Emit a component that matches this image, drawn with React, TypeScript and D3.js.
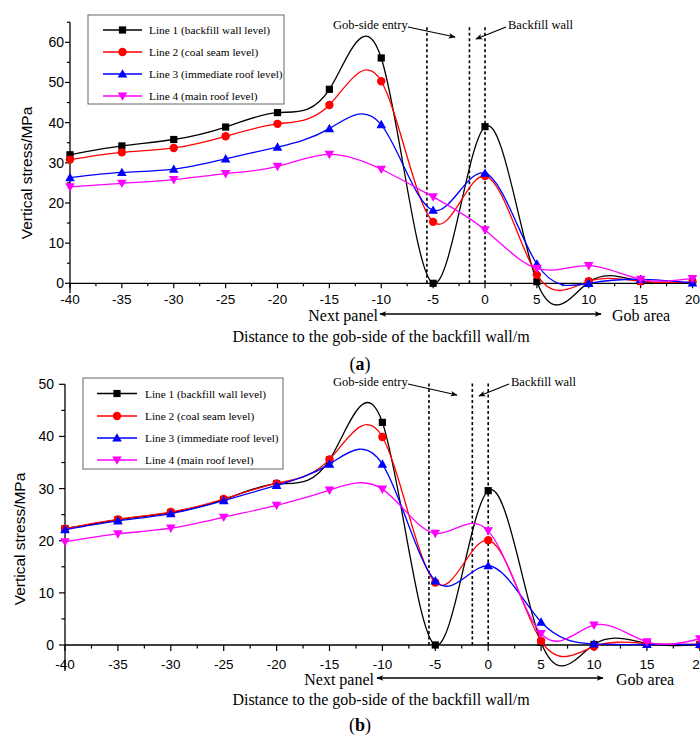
import React from "react";
import * as d3 from "d3";

// Distance to the gob-side of the backfill wall (m)
const distances = [-40, -35, -30, -25, -20, -15, -10, -5, 0, 5, 10, 15, 20];
const xTicks = [-40, -35, -30, -25, -20, -15, -10, -5, 0, 5, 10, 15, 20];

const seriesNames = [
  "Line 1 (backfill wall level)",
  "Line 2 (coal seam level)",
  "Line 3 (immediate roof level)",
  "Line 4 (main roof level)",
];
const seriesColors = ["#000000", "#ff0000", "#0000ff", "#ff00ff"];
const seriesShapes = ["square", "circle", "triangle", "triangleDown"];

// Vertical stress (MPa), panel (a)
const stressA1 = [32.0, 34.2, 35.8, 38.9, 42.5, 48.3, 56.1, 0, 39.0, 0.4, 0.3, 0.5, 0.3];
const stressA2 = [30.8, 32.6, 33.7, 36.6, 39.7, 44.4, 50.3, 15.3, 26.7, 2.1, 0.5, 0.5, 0.3];
const stressA3 = [26.3, 27.6, 28.4, 31.0, 33.9, 38.5, 39.5, 18.2, 27.4, 4.8, 0.0, 1.0, 0.1];
const stressA4 = [24.0, 24.9, 25.8, 27.3, 29.1, 32.1, 28.4, 21.5, 13.3, 3.7, 4.4, 1.0, 1.2];

// Vertical stress (MPa), panel (b)
const stressB1 = [22.3, 24.0, 25.4, 27.9, 30.9, 35.5, 42.7, 0, 29.6, 0.5, 0.1, 0.3, 0.1];
const stressB2 = [22.3, 24.1, 25.5, 28.0, 31.0, 35.6, 39.9, 12.0, 20.1, 0.8, -0.3, 0.3, 0.1];
const stressB3 = [22.1, 23.8, 25.2, 27.7, 30.6, 34.7, 34.7, 12.3, 15.2, 4.4, 0.2, 0.1, 0.1];
const stressB4 = [19.8, 21.3, 22.4, 24.5, 26.8, 29.7, 29.9, 21.4, 21.9, 2.2, 3.8, 0.6, 1.2];

const yTicksA = [0, 10, 20, 30, 40, 50, 60];
const yTicksB = [0, 10, 20, 30, 40, 50];

// Boundaries of the gob-side entry and backfill wall (m)
const boundaryPositions = [-5.6, -1.5, 0];

const SANS = "'Liberation Sans', Arial, sans-serif";
const SERIF = "'Liberation Serif', 'Times New Roman', serif";

type Layout = {
  left: number;
  right: number;
  axisRight: number;
  zeroY: number;
  topY: number;
  topVal: number;
  yLow: number;
  yHigh: number;
  tickLen: number;
  yLabelRight: number;
  xLabelBase: number;
  yTitleX: number;
  yTitleY: number;
  boundaryTop: number;
  legend: { x: number; y: number; w: number; h: number; rows: number[]; lineX0: number; lineX1: number; textX: number };
  entryText: { x: number; y: number };
  entryArrow: [number, number, number, number];
  wallText: { x: number; y: number };
  wallArrow: [number, number, number, number];
  dirY: number;
  dirX0: number;
  dirX1: number;
  nextX: number;
  gobX: number;
  dirTextBase: number;
  titleBase: number;
  tagBase: number;
};

function Marker({ shape, cx, cy, color }: { shape: string; cx: number; cy: number; color: string }) {
  if (shape === "square") return <rect x={cx - 3.6} y={cy - 3.6} width={7.2} height={7.2} fill={color} />;
  if (shape === "circle") return <circle cx={cx} cy={cy} r={4.2} fill={color} />;
  if (shape === "triangle")
    return <path d={`M${cx},${cy - 4.8}L${cx + 4.8},${cy + 3.6}L${cx - 4.8},${cy + 3.6}Z`} fill={color} />;
  return <path d={`M${cx},${cy + 4.8}L${cx + 4.8},${cy - 3.6}L${cx - 4.8},${cy - 3.6}Z`} fill={color} />;
}

function Panel({ series, yTicks, L, tag }: { series: number[][]; yTicks: number[]; L: Layout; tag: string }) {
  const x = d3.scaleLinear().domain([-40, 20]).range([L.left, L.right]);
  const y = d3.scaleLinear().domain([0, L.topVal]).range([L.zeroY, L.topY]);
  const line = d3
    .line<number>()
    .x((_, i) => x(distances[i]))
    .y((d) => y(d))
    .curve(d3.curveNatural);

  const minorY: number[] = [];
  for (let v = 5; v <= L.yHigh; v += 10) minorY.push(v);
  const minorX = xTicks.slice(0, -1).map((v) => v + 2.5);

  const arrowHead = `url(#head-${tag})`;

  return (
    <g>
      <defs>
        <marker id={`head-${tag}`} viewBox="0 0 10 10" refX="9" refY="5" markerWidth="9" markerHeight="7" orient="auto-start-reverse" markerUnits="userSpaceOnUse">
          <path d="M0,1L10,5L0,9L2.5,5Z" fill="#000" />
        </marker>
      </defs>

      {/* boundary lines */}
      {boundaryPositions.map((b) => (
        <line key={b} x1={x(b)} x2={x(b)} y1={y(0)} y2={L.boundaryTop} stroke="#000" strokeWidth={1.6} strokeDasharray="3,2.5" />
      ))}

      {/* y axis */}
      <line x1={L.left} x2={L.left} y1={y(L.yLow)} y2={y(L.yHigh)} stroke="#000" strokeWidth={1.3} />
      {yTicks.map((v) => (
        <g key={v}>
          <line x1={L.left - L.tickLen} x2={L.left} y1={y(v)} y2={y(v)} stroke="#000" strokeWidth={1.2} />
          <text x={L.yLabelRight} y={y(v) + 5} textAnchor="end" fontFamily={SANS} fontSize={14} fill="#000">
            {v}
          </text>
        </g>
      ))}
      {minorY.map((v) => (
        <line key={v} x1={L.left - L.tickLen * 0.6} x2={L.left} y1={y(v)} y2={y(v)} stroke="#000" strokeWidth={1.2} />
      ))}

      {/* x axis */}
      <line x1={L.left} x2={L.axisRight} y1={y(0)} y2={y(0)} stroke="#000" strokeWidth={1.3} />
      {xTicks.map((v) => (
        <g key={v}>
          <line x1={x(v)} x2={x(v)} y1={y(0)} y2={y(0) + L.tickLen} stroke="#000" strokeWidth={1.2} />
          <text x={x(v)} y={L.xLabelBase} textAnchor="middle" fontFamily={SANS} fontSize={13.5} fill="#000">
            {v}
          </text>
        </g>
      ))}
      {minorX.map((v) => (
        <line key={v} x1={x(v)} x2={x(v)} y1={y(0)} y2={y(0) + L.tickLen * 0.6} stroke="#000" strokeWidth={1.2} />
      ))}

      {/* series */}
      {series.map((vals, si) => (
        <g key={si}>
          <path d={line(vals) || ""} fill="none" stroke={seriesColors[si]} strokeWidth={1.3} />
          {vals.map((v, i) => (
            <Marker key={i} shape={seriesShapes[si]} cx={x(distances[i])} cy={y(v)} color={seriesColors[si]} />
          ))}
        </g>
      ))}

      {/* legend */}
      <rect x={L.legend.x} y={L.legend.y} width={L.legend.w} height={L.legend.h} fill="#fff" stroke="#666" strokeWidth={1} />
      {seriesNames.map((name, si) => {
        const ry = L.legend.rows[si];
        return (
          <g key={name}>
            <line x1={L.legend.lineX0} x2={L.legend.lineX1} y1={ry} y2={ry} stroke={seriesColors[si]} strokeWidth={1.3} />
            <Marker shape={seriesShapes[si]} cx={(L.legend.lineX0 + L.legend.lineX1) / 2} cy={ry} color={seriesColors[si]} />
            <text x={L.legend.textX} y={ry + 4} fontFamily={SERIF} fontSize={11.3} fill="#000">
              {name}
            </text>
          </g>
        );
      })}

      {/* annotations */}
      <text x={L.entryText.x} y={L.entryText.y} fontFamily={SERIF} fontSize={12.5} fill="#000">
        Gob-side entry
      </text>
      <line x1={L.entryArrow[0]} y1={L.entryArrow[1]} x2={L.entryArrow[2]} y2={L.entryArrow[3]} stroke="#000" strokeWidth={1.2} markerEnd={arrowHead} />
      <text x={L.wallText.x} y={L.wallText.y} fontFamily={SERIF} fontSize={12.5} fill="#000">
        Backfill wall
      </text>
      <line x1={L.wallArrow[0]} y1={L.wallArrow[1]} x2={L.wallArrow[2]} y2={L.wallArrow[3]} stroke="#000" strokeWidth={1.2} markerEnd={arrowHead} />

      {/* y title */}
      <text
        transform={`translate(${L.yTitleX},${L.yTitleY}) rotate(-90)`}
        textAnchor="middle"
        fontFamily={SANS}
        fontSize={15.5}
        fill="#000"
      >
        Vertical stress/MPa
      </text>

      {/* direction indicator */}
      <line x1={L.dirX0} x2={L.dirX1} y1={L.dirY} y2={L.dirY} stroke="#000" strokeWidth={1.6} markerStart={arrowHead} markerEnd={arrowHead} />
      <text x={L.nextX} y={L.dirTextBase} textAnchor="end" fontFamily={SERIF} fontSize={16} fill="#000">
        Next panel
      </text>
      <text x={L.gobX} y={L.dirTextBase} fontFamily={SERIF} fontSize={16} fill="#000">
        Gob area
      </text>
      <text x={381} y={L.titleBase} textAnchor="middle" fontFamily={SERIF} fontSize={16} fill="#000">
        Distance to the gob-side of the backfill wall/m
      </text>
      <text x={360} y={L.tagBase} textAnchor="middle" fontFamily={SERIF} fontSize={18} fill="#000">
        (<tspan fontWeight="bold">{tag}</tspan>)
      </text>
    </g>
  );
}

const layoutA: Layout = {
  left: 70,
  right: 692.5,
  axisRight: 692.5,
  zeroY: 283.3,
  topY: 42.3,
  topVal: 60,
  yLow: -2.5,
  yHigh: 65,
  tickLen: 5,
  yLabelRight: 64,
  xLabelBase: 304,
  yTitleX: 32,
  yTitleY: 173,
  boundaryTop: 26.5,
  legend: { x: 88, y: 15, w: 196, h: 89, rows: [30, 52, 74, 96], lineX0: 103, lineX1: 142, textX: 149 },
  entryText: { x: 333, y: 29 },
  entryArrow: [408, 27, 455, 37],
  wallText: { x: 508, y: 29 },
  wallArrow: [506, 27, 476, 39],
  dirY: 314,
  dirX0: 380,
  dirX1: 601,
  nextX: 378,
  gobX: 612,
  dirTextBase: 321,
  titleBase: 342,
  tagBase: 370,
};

const layoutB: Layout = {
  left: 65,
  right: 699.8,
  axisRight: 700,
  zeroY: 645,
  topY: 384.3,
  topVal: 50,
  yLow: -5,
  yHigh: 50,
  tickLen: 6,
  yLabelRight: 54,
  xLabelBase: 668.5,
  yTitleX: 25,
  yTitleY: 539,
  boundaryTop: 383.3,
  legend: { x: 83, y: 378, w: 200, h: 91, rows: [393.5, 416, 438, 460], lineX0: 97, lineX1: 137, textX: 145 },
  entryText: { x: 333, y: 386 },
  entryArrow: [408, 384, 457, 395],
  wallText: { x: 511, y: 386 },
  wallArrow: [509, 384, 479, 396],
  dirY: 678,
  dirX0: 377,
  dirX1: 603,
  nextX: 374,
  gobX: 616,
  dirTextBase: 684.5,
  titleBase: 705,
  tagBase: 731,
};

export default function App() {
  return (
    <svg
      width={700}
      height={736}
      viewBox="0 0 700 736"
      style={{ position: "absolute", left: 0, top: 0, background: "#fff" }}
    >
      <rect width={700} height={736} fill="#fff" />
      <Panel series={[stressA1, stressA2, stressA3, stressA4]} yTicks={yTicksA} L={layoutA} tag="a" />
      <Panel series={[stressB1, stressB2, stressB3, stressB4]} yTicks={yTicksB} L={layoutB} tag="b" />
    </svg>
  );
}
